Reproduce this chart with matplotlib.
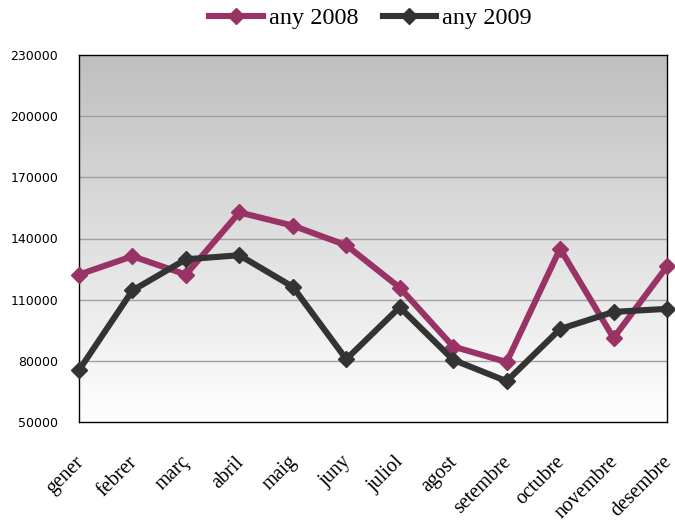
import numpy as np
import matplotlib
matplotlib.use("Agg")
import matplotlib.pyplot as plt
import matplotlib.transforms as mtransforms
from matplotlib.colors import LinearSegmentedColormap

months = ["gener", "febrer", "març", "abril", "maig", "juny", "juliol",
          "agost", "setembre", "octubre", "novembre", "desembre"]
any_2008 = [122300, 131300, 122300, 152800, 146300, 136700, 115900,
            87000, 79400, 135000, 91200, 126300]
any_2009 = [75400, 114500, 129800, 131800, 116300, 80800, 106300,
            80500, 70000, 95600, 104000, 105500]
y_ticks = [50000, 80000, 110000, 140000, 170000, 200000, 230000]

fig = plt.figure(figsize=(6.75, 5.24), dpi=100)
ax = fig.add_axes([79/675, 1-422/524, (667-79)/675, (422-55)/524])

x = np.arange(len(months))
ax.set_xlim(0, len(months) - 1)
ax.set_ylim(50000, 230000)

# gradient background
cmap = LinearSegmentedColormap.from_list("g", ["#ffffff", "#bfbfbf"])
grad = np.linspace(0, 1, 256).reshape(-1, 1)
ax.imshow(grad, cmap=cmap, aspect="auto", origin="lower",
          extent=[0, 1, 0, 1], transform=ax.transAxes, zorder=0)

for yv in y_ticks[1:-1]:
    ax.axhline(yv, color="#a0a0a0", lw=1.0, zorder=1)

ax.plot(x, any_2008, color="#993366", lw=4.4, marker="D", ms=8,
        label="any 2008", zorder=3, clip_on=False)
ax.plot(x, any_2009, color="#333333", lw=4.4, marker="D", ms=8,
        label="any 2009", zorder=4, clip_on=False)

ax.set_yticks(y_ticks)
ax.set_yticklabels([str(v) for v in y_ticks], fontsize=9, family="DejaVu Sans")
ax.set_xticks(x)
ax.set_xticklabels(months, rotation=45, ha="right", va="top",
                   rotation_mode="anchor",
                   fontsize=14.5, family="Liberation Serif")
ax.tick_params(axis="both", length=0)
ax.tick_params(axis="y", pad=15)
ax.tick_params(axis="x", pad=22)
offset = mtransforms.ScaledTranslation(-5/100, 0, fig.dpi_scale_trans)
for lab in ax.get_xticklabels():
    lab.set_transform(lab.get_transform() + offset)

for s in ax.spines.values():
    s.set_color("#000000")
    s.set_linewidth(1.0)

leg = fig.legend(loc="upper center", bbox_to_anchor=(0.549, 1.028), ncol=2,
                 frameon=False, prop={"family": "Liberation Serif", "size": 17.5},
                 handlelength=2.2, handletextpad=0.25, columnspacing=1.0)

fig.savefig("out.png", dpi=100)
